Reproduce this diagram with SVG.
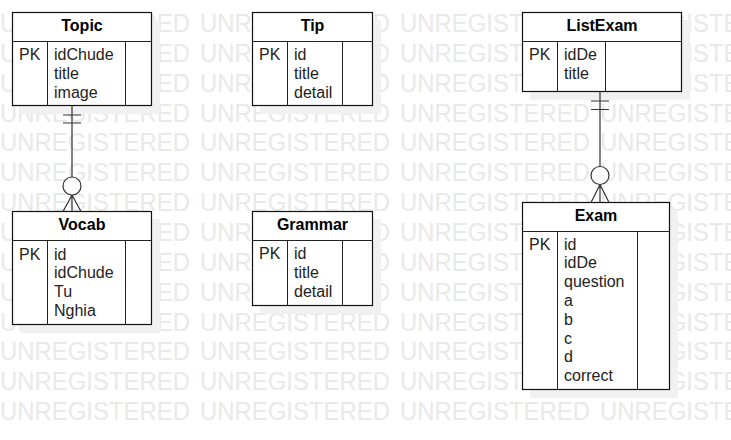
<svg xmlns="http://www.w3.org/2000/svg" xmlns:xlink="http://www.w3.org/1999/xlink" width="731" height="440" viewBox="0 0 731 440">
<style>
.wm{font-family:"Liberation Sans",Arial,sans-serif;font-size:25px;fill:#e9e9e9}
.shadow{fill:#f1f1f1;stroke:none}
.box{fill:#fff;stroke:#111;stroke-width:1.2}
.div{stroke:#222;stroke-width:1;fill:none}
.title{font-family:"Liberation Sans",Arial,sans-serif;font-size:16px;font-weight:bold;fill:#000;text-anchor:middle}
.f{font-family:"Liberation Sans",Arial,sans-serif;font-size:16px;fill:#222}
.conn{stroke:#333;stroke-width:1.2;fill:none}
.circ{stroke:#333;stroke-width:1.2;fill:#fff}
</style>
<defs>
<text id="wmrow" class="wm"><tspan x="0" textLength="190" lengthAdjust="spacingAndGlyphs">UNREGISTERED</tspan><tspan x="200" textLength="190" lengthAdjust="spacingAndGlyphs">UNREGISTERED</tspan><tspan x="400" textLength="190" lengthAdjust="spacingAndGlyphs">UNREGISTERED</tspan><tspan x="600" textLength="190" lengthAdjust="spacingAndGlyphs">UNREGISTERED</tspan></text>
</defs>
<rect width="731" height="440" fill="#fff"/>
<g id="watermark">
<use xlink:href="#wmrow" y="32"/>
<use xlink:href="#wmrow" y="61.85"/>
<use xlink:href="#wmrow" y="91.7"/>
<use xlink:href="#wmrow" y="121.55"/>
<use xlink:href="#wmrow" y="151.4"/>
<use xlink:href="#wmrow" y="181.25"/>
<use xlink:href="#wmrow" y="211.1"/>
<use xlink:href="#wmrow" y="240.95"/>
<use xlink:href="#wmrow" y="270.8"/>
<use xlink:href="#wmrow" y="300.65"/>
<use xlink:href="#wmrow" y="330.5"/>
<use xlink:href="#wmrow" y="360.35"/>
<use xlink:href="#wmrow" y="390.2"/>
<use xlink:href="#wmrow" y="420.05"/>
</g>
<g id="Topic">
<rect class="shadow" x="20" y="20" width="140" height="94"/>
<rect class="box" x="12.5" y="12.5" width="139" height="93"/>
<path class="div" d="M12.5 41.5H151.5M47.5 41.5V105.5M125.5 41.5V105.5"/>
<text class="title" x="82" y="31">Topic</text>
<text class="f" x="19" y="60">PK</text>
<text class="f" x="54"><tspan x="54" y="60">idChude</tspan><tspan x="54" y="78.8">title</tspan><tspan x="54" y="97.6">image</tspan></text>
</g>
<g id="Vocab">
<rect class="shadow" x="20" y="219" width="140" height="114"/>
<rect class="box" x="12.5" y="211.5" width="139" height="113"/>
<path class="div" d="M12.5 240.5H151.5M47.5 240.5V324.5M125.5 240.5V324.5"/>
<text class="title" x="82" y="230">Vocab</text>
<text class="f" x="19" y="259.5">PK</text>
<text class="f" x="54"><tspan x="54" y="259.5">id</tspan><tspan x="54" y="278.3">idChude</tspan><tspan x="54" y="297.1">Tu</tspan><tspan x="54" y="315.9">Nghia</tspan></text>
</g>
<g id="Tip">
<rect class="shadow" x="260" y="20" width="121" height="94"/>
<rect class="box" x="252.5" y="12.5" width="120" height="93"/>
<path class="div" d="M252.5 41.5H372.5M287.5 41.5V105.5M342.5 41.5V105.5"/>
<text class="title" x="312.5" y="31">Tip</text>
<text class="f" x="259" y="60">PK</text>
<text class="f" x="294"><tspan x="294" y="60">id</tspan><tspan x="294" y="78.8">title</tspan><tspan x="294" y="97.6">detail</tspan></text>
</g>
<g id="Grammar">
<rect class="shadow" x="260" y="219" width="121" height="95"/>
<rect class="box" x="252.5" y="211.5" width="120" height="94"/>
<path class="div" d="M252.5 240.5H372.5M287.5 240.5V305.5M342.5 240.5V305.5"/>
<text class="title" x="312.5" y="230">Grammar</text>
<text class="f" x="259" y="259">PK</text>
<text class="f" x="294"><tspan x="294" y="259">id</tspan><tspan x="294" y="277.8">title</tspan><tspan x="294" y="296.6">detail</tspan></text>
</g>
<g id="ListExam">
<rect class="shadow" x="530" y="20" width="160" height="80"/>
<rect class="box" x="522.5" y="12.5" width="159" height="79"/>
<path class="div" d="M522.5 41.5H681.5M557.5 41.5V91.5M605.5 41.5V91.5"/>
<text class="title" x="602" y="31">ListExam</text>
<text class="f" x="529" y="60">PK</text>
<text class="f" x="564"><tspan x="564" y="60">idDe</tspan><tspan x="564" y="78.8">title</tspan></text>
</g>
<g id="Exam">
<rect class="shadow" x="530" y="210" width="148" height="188"/>
<rect class="box" x="522.5" y="202.5" width="147" height="187"/>
<path class="div" d="M522.5 231.5H669.5M557.5 231.5V389.5M637.5 231.5V389.5"/>
<text class="title" x="596" y="221">Exam</text>
<text class="f" x="529" y="249.5">PK</text>
<text class="f" x="564"><tspan x="564" y="249.5">id</tspan><tspan x="564" y="268.3">idDe</tspan><tspan x="564" y="287.1">question</tspan><tspan x="564" y="305.9">a</tspan><tspan x="564" y="324.7">b</tspan><tspan x="564" y="343.5">c</tspan><tspan x="564" y="362.3">d</tspan><tspan x="564" y="381.1">correct</tspan></text>
</g>
<g id="connectors">
<g id="topic-vocab">
<path class="conn" d="M72 105.5V211.5M63 115H81M63 123H81M72 195L63 211.5M72 195L81 211.5"/>
<circle class="circ" cx="72" cy="186" r="9"/>
</g>
<g id="listexam-exam">
<path class="conn" d="M600 91.5V202.5M591 101H609M591 109.5H609M600 184.5L591 202.5M600 184.5L609 202.5"/>
<circle class="circ" cx="600" cy="175.5" r="9"/>
</g>
</g>
</svg>
